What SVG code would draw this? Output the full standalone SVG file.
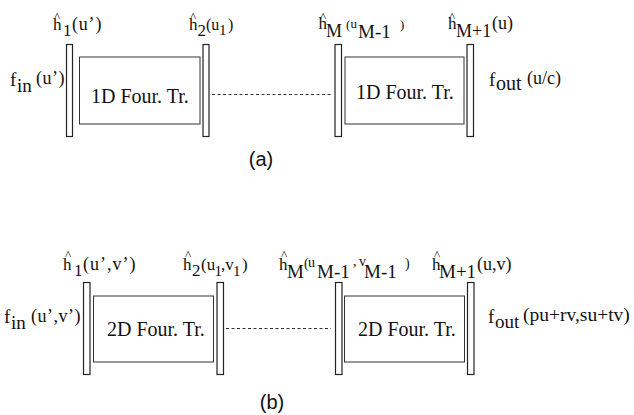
<svg xmlns="http://www.w3.org/2000/svg" width="634" height="415" viewBox="0 0 634 415">
<style>
.bar{fill:#fff;stroke:#222;stroke-width:1.2}
.box{fill:#fff;stroke:#333;stroke-width:1}
.dash{stroke:#333;stroke-width:1;stroke-dasharray:3 2.5;fill:none}
.t{font-family:"Liberation Serif","Times New Roman",serif;fill:#111}
.ft{font-family:"Liberation Serif","Times New Roman",serif;font-size:20px;fill:#111}
.cap{font-family:"Liberation Sans",Arial,sans-serif;font-size:20px;fill:#111}
</style>
<rect width="634" height="415" fill="#fff"/>

<!-- (a) -->
<g id="connectors-a">
  <line class="dash" x1="212" y1="94.5" x2="333" y2="94.5"/>
</g>
<g id="a-in">
  <text class="t"><tspan x="10" y="86" font-size="19">f</tspan><tspan x="17" y="92" font-size="19">in</tspan><tspan x="36" y="84" font-size="18" letter-spacing="0.5">(u’)</tspan></text>
</g>
<g id="a-h1">
  <rect class="bar" x="66.5" y="44.5" width="6" height="92"/>
  <text class="t"><tspan x="54" y="21" font-size="13">^</tspan><tspan x="53" y="30" font-size="17">h</tspan><tspan x="63" y="36" font-size="17">1</tspan><tspan x="72" y="30" font-size="18" letter-spacing="0.8">(u’)</tspan></text>
</g>
<g id="a-ft1">
  <rect class="box" x="79.5" y="57" width="120.5" height="67"/>
  <text class="ft" x="91" y="103">1D Four. Tr.</text>
</g>
<g id="a-h2">
  <rect class="bar" x="203" y="44.5" width="6" height="92"/>
  <text class="t"><tspan x="190" y="21" font-size="13">^</tspan><tspan x="189" y="30" font-size="17">h</tspan><tspan x="197.5" y="36" font-size="17">2</tspan><tspan x="206" y="30" font-size="16">(u</tspan><tspan x="219" y="35" font-size="15">1</tspan><tspan x="228" y="30" font-size="16">)</tspan></text>
</g>
<g id="a-hM">
  <rect class="bar" x="335" y="44.5" width="6.5" height="92"/>
  <text class="t"><tspan x="320" y="21" font-size="13">^</tspan><tspan x="318.5" y="29" font-size="17">h</tspan><tspan x="326" y="37" font-size="18">M</tspan><tspan x="346" y="29" font-size="13">(</tspan><tspan x="350.5" y="28" font-size="13">u</tspan><tspan x="358" y="38" font-size="19">M-1</tspan><tspan x="400" y="29" font-size="13">)</tspan></text>
</g>
<g id="a-ft2">
  <rect class="box" x="345" y="57" width="119" height="67"/>
  <text class="ft" x="356" y="99">1D Four. Tr.</text>
</g>
<g id="a-hM1">
  <rect class="bar" x="467" y="44.5" width="6.5" height="92"/>
  <text class="t"><tspan x="449" y="21" font-size="13">^</tspan><tspan x="448" y="29" font-size="17">h</tspan><tspan x="456" y="37" font-size="18">M+1</tspan><tspan x="492" y="29" font-size="18">(u)</tspan></text>
</g>
<g id="a-out">
  <text class="t"><tspan x="489" y="86" font-size="19">f</tspan><tspan x="496" y="90" font-size="20">out</tspan><tspan x="527" y="84" font-size="18">(u/c)</tspan></text>
</g>
<text class="cap" x="261" y="166" text-anchor="middle">(a)</text>

<!-- (b) -->
<g id="connectors-b">
  <line class="dash" x1="226" y1="328.5" x2="331" y2="328.5"/>
</g>
<g id="b-in">
  <text class="t"><tspan x="4" y="323" font-size="19">f</tspan><tspan x="11" y="329" font-size="19">in</tspan><tspan x="31" y="322" font-size="18" letter-spacing="0.5">(u’,v’)</tspan></text>
</g>
<g id="b-h1">
  <rect class="bar" x="83.5" y="282.5" width="6.5" height="92"/>
  <text class="t"><tspan x="65" y="259" font-size="13">^</tspan><tspan x="63" y="270" font-size="17">h</tspan><tspan x="74" y="276" font-size="17">1</tspan><tspan x="83" y="270" font-size="18" letter-spacing="1">(u’,v’)</tspan></text>
</g>
<g id="b-ft1">
  <rect class="box" x="93.5" y="296" width="120" height="66"/>
  <text class="ft" x="107" y="336">2D Four. Tr.</text>
</g>
<g id="b-h2">
  <rect class="bar" x="217" y="282.5" width="6.5" height="92"/>
  <text class="t"><tspan x="185" y="259" font-size="13">^</tspan><tspan x="183" y="270" font-size="17">h</tspan><tspan x="192" y="276" font-size="17">2</tspan><tspan x="201" y="270" font-size="17">(u</tspan><tspan x="214.5" y="276" font-size="15">1</tspan><tspan x="221" y="270" font-size="17">,v</tspan><tspan x="233" y="276" font-size="15">1</tspan><tspan x="242" y="270" font-size="17">)</tspan></text>
</g>
<g id="b-hM">
  <rect class="bar" x="335.5" y="282.5" width="6.5" height="92"/>
  <text class="t"><tspan x="281" y="259" font-size="13">^</tspan><tspan x="279" y="270" font-size="17">h</tspan><tspan x="287" y="278" font-size="19">M</tspan><tspan x="304" y="268" font-size="14">(</tspan><tspan x="308" y="267" font-size="14">u</tspan><tspan x="317" y="278" font-size="19">M-1</tspan><tspan x="353" y="266" font-size="14">,</tspan><tspan x="359" y="266" font-size="14">v</tspan><tspan x="364" y="278" font-size="19">M-1</tspan><tspan x="405" y="268" font-size="14">)</tspan></text>
</g>
<g id="b-ft2">
  <rect class="box" x="344.5" y="296" width="120" height="66"/>
  <text class="ft" x="358" y="336">2D Four. Tr.</text>
</g>
<g id="b-hM1">
  <rect class="bar" x="467.5" y="282.5" width="6.5" height="92"/>
  <text class="t"><tspan x="434" y="259" font-size="13">^</tspan><tspan x="432" y="270" font-size="17">h</tspan><tspan x="439" y="278" font-size="19">M+1</tspan><tspan x="477" y="270" font-size="18">(u,v)</tspan></text>
</g>
<g id="b-out">
  <text class="t"><tspan x="488" y="323" font-size="19">f</tspan><tspan x="495" y="328" font-size="19">out</tspan><tspan x="523" y="321" font-size="19.5">(pu+rv,su+tv)</tspan></text>
</g>
<text class="cap" x="272" y="409" text-anchor="middle">(b)</text>
</svg>
